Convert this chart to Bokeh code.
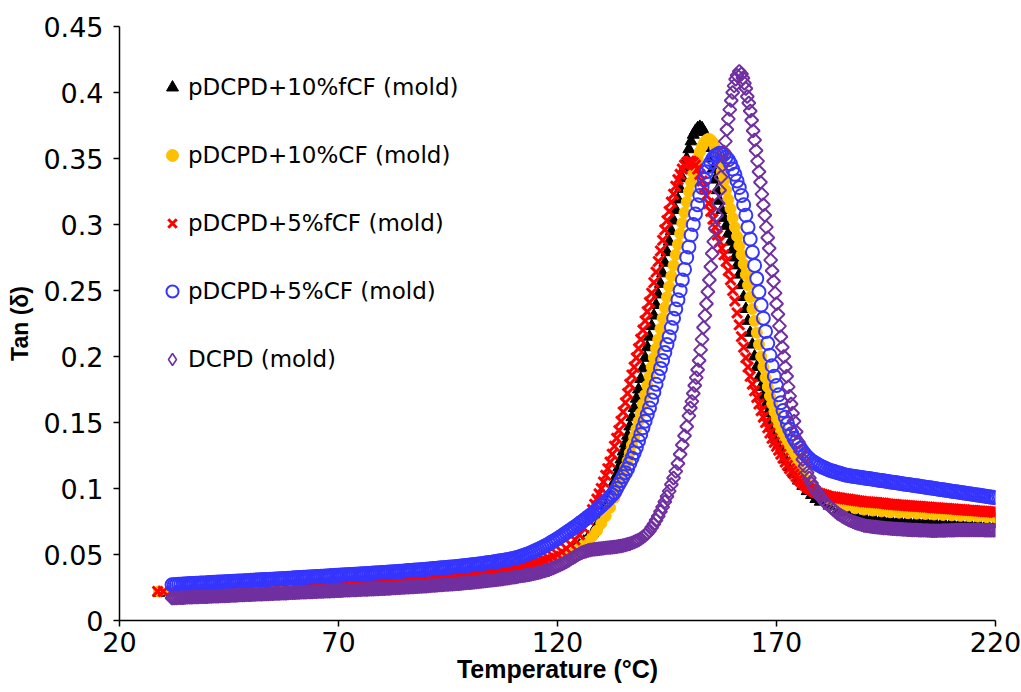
import math
from bokeh.plotting import figure
from bokeh.models import (ColumnDataSource, Range1d, FixedTicker, CustomJSTickFormatter,
                          Legend, LegendItem)
from bokeh.embed import file_html
from bokeh.resources import INLINE

# ---------------- data (temperature in °C, tan delta) ----------------
black_pts = [(29,0.021),(32,0.0215),(35,0.022),(38,0.0225),(41,0.023),(44,0.0235),(47,0.024),(50,0.0245),(53,0.025),(56,0.0255),(59,0.026),(62,0.0265),(65,0.027),(68,0.0275),(71,0.028),(74,0.0285),(77,0.029),(80,0.0295),(83,0.03),(86,0.0305),(89,0.031),(92,0.0318),(95,0.0325),(98,0.0333),(101,0.034),(104,0.035),(107,0.036),(110,0.0375),(113,0.0395),(116,0.042),(118,0.0445),(120,0.047),(122,0.05),(124,0.054),(125,0.0568),(126,0.0598),(127,0.063),(128,0.066),(129,0.072),(130,0.079),(131,0.087),(132,0.096),(132.5,0.1),(133,0.105),(133.5,0.11),(134,0.116),(134.5,0.122),(135,0.128),(135.5,0.134),(136,0.14),(136.5,0.147),(137,0.154),(137.5,0.161),(138,0.168),(138.5,0.175),(139,0.183),(139.5,0.191),(140,0.199),(140.5,0.207),(141,0.215),(141.5,0.223),(142,0.231),(142.5,0.239),(143,0.247),(143.5,0.255),(144,0.263),(144.5,0.271),(145,0.279),(145.5,0.287),(146,0.295),(146.5,0.303),(147,0.311),(147.5,0.319),(148,0.327),(148.5,0.335),(149,0.343),(149.5,0.35),(150,0.357),(150.5,0.363),(151,0.368),(151.5,0.371),(152,0.373),(152.5,0.374),(153,0.373),(153.5,0.37),(154,0.365),(154.5,0.358),(155,0.35),(155.5,0.342),(156,0.334),(156.5,0.326),(157,0.318),(157.5,0.311),(158,0.305),(158.5,0.299),(159,0.293),(159.5,0.287),(160,0.281),(160.5,0.275),(161,0.269),(161.5,0.262),(162,0.254),(162.5,0.245),(163,0.236),(163.5,0.227),(164,0.218),(164.5,0.209),(165,0.2),(165.5,0.192),(166,0.184),(166.5,0.177),(167,0.17),(167.5,0.163),(168,0.157),(168.5,0.151),(169,0.146),(169.5,0.141),(170,0.137),(170.5,0.133),(171,0.129),(172,0.122),(173,0.116),(174,0.111),(175,0.106),(176,0.102),(177,0.098),(178,0.095),(179,0.092),(180,0.09),(182,0.087),(184,0.084),(186,0.082),(188,0.08),(190,0.079),(192,0.0783),(194,0.0777),(196,0.077),(198,0.0767),(200,0.0763),(202,0.076),(204,0.0757),(206,0.0753),(208,0.075),(210,0.0747),(212,0.0743),(214,0.074),(216,0.0737),(218,0.0733),(220,0.073)]

yellow_pts = [(29,0.022),(32,0.0222),(35,0.0226),(38,0.023),(41,0.0234),(44,0.0238),(47,0.0242),(50,0.0246),(53,0.025),(56,0.0255),(59,0.026),(62,0.0265),(65,0.027),(68,0.0275),(71,0.028),(74,0.0285),(77,0.029),(80,0.0295),(83,0.03),(86,0.0306),(89,0.0312),(92,0.0319),(95,0.0326),(98,0.0334),(101,0.0342),(104,0.0352),(107,0.0362),(110,0.0375),(113,0.0393),(116,0.0415),(118,0.0435),(120,0.046),(122,0.049),(124,0.0525),(125,0.055),(126,0.0575),(127,0.06),(128,0.064),(129,0.068),(130,0.0735),(131,0.079),(132,0.0855),(133,0.093),(133.5,0.097),(134,0.101),(134.5,0.106),(135,0.111),(135.5,0.116),(136,0.121),(136.5,0.127),(137,0.133),(137.5,0.139),(138,0.145),(138.5,0.151),(139,0.157),(139.5,0.164),(140,0.171),(140.5,0.178),(141,0.185),(141.5,0.192),(142,0.199),(142.5,0.206),(143,0.213),(143.5,0.221),(144,0.229),(144.5,0.237),(145,0.245),(145.5,0.253),(146,0.261),(146.5,0.269),(147,0.277),(147.5,0.285),(148,0.293),(148.5,0.301),(149,0.309),(149.5,0.317),(150,0.325),(150.5,0.332),(151,0.339),(151.5,0.345),(152,0.35),(152.5,0.355),(153,0.359),(153.5,0.362),(154,0.364),(154.5,0.365),(155,0.364),(155.5,0.362),(156,0.358),(156.5,0.353),(157,0.347),(157.5,0.34),(158,0.333),(158.5,0.326),(159,0.319),(159.5,0.312),(160,0.305),(160.5,0.298),(161,0.291),(161.5,0.284),(162,0.277),(162.5,0.27),(163,0.262),(163.5,0.254),(164,0.245),(164.5,0.236),(165,0.227),(165.5,0.218),(166,0.209),(166.5,0.2),(167,0.192),(167.5,0.184),(168,0.177),(168.5,0.17),(169,0.164),(169.5,0.158),(170,0.153),(170.5,0.148),(171,0.144),(171.5,0.14),(172,0.136),(173,0.129),(174,0.122),(175,0.116),(176,0.111),(177,0.106),(178,0.102),(179,0.099),(180,0.096),(182,0.092),(184,0.089),(186,0.087),(188,0.085),(190,0.084),(192,0.0833),(194,0.0827),(196,0.082),(198,0.0817),(200,0.0813),(202,0.081),(204,0.0807),(206,0.0803),(208,0.08),(210,0.0797),(212,0.0793),(214,0.079),(216,0.0787),(218,0.0783),(220,0.078)]

red_pts = [(28.7,0.022),(30,0.022),(32,0.0225),(34,0.0228),(36,0.023),(38,0.0232),(40,0.0235),(42,0.0238),(44,0.024),(46,0.0243),(48,0.0246),(50,0.025),(52,0.0253),(54,0.0256),(56,0.026),(58,0.0263),(60,0.0266),(61,0.0268),(62,0.027),(63,0.0272),(64,0.0273),(65,0.0275),(66,0.0277),(67,0.0279),(68,0.028),(69,0.0282),(70,0.0284),(71,0.0286),(72,0.0288),(73,0.029),(74,0.0292),(75,0.0294),(76,0.0296),(77,0.0298),(78,0.03),(79,0.0302),(80,0.0304),(81,0.0306),(82,0.0308),(83,0.031),(84,0.0312),(85,0.0314),(86,0.0316),(87,0.0318),(88,0.032),(89,0.0322),(90,0.0325),(91,0.0327),(92,0.033),(93,0.0332),(94,0.0335),(95,0.0337),(96,0.034),(97,0.0343),(98,0.0346),(99,0.0349),(100,0.0352),(101,0.0356),(102,0.036),(103,0.0364),(104,0.0368),(105,0.0372),(106,0.0377),(107,0.0382),(108,0.0387),(109,0.0393),(110,0.04),(111,0.0407),(112,0.0415),(113,0.0422),(114,0.043),(115,0.0439),(116,0.0448),(117,0.0459),(118,0.047),(119,0.0485),(120,0.05),(121,0.052),(122,0.0545),(123,0.0575),(124,0.061),(125,0.065),(126,0.07),(127,0.0765),(127.5,0.08),(128,0.084),(128.5,0.088),(129,0.092),(129.5,0.096),(130,0.1),(130.5,0.105),(131,0.11),(131.5,0.115),(132,0.12),(132.5,0.126),(133,0.132),(133.5,0.138),(134,0.144),(134.5,0.151),(135,0.158),(135.5,0.165),(136,0.172),(136.5,0.179),(137,0.186),(137.5,0.192),(138,0.199),(138.5,0.206),(139,0.213),(139.5,0.22),(140,0.227),(140.5,0.234),(141,0.241),(141.5,0.248),(142,0.256),(142.5,0.264),(143,0.272),(143.5,0.28),(144,0.288),(144.5,0.296),(145,0.303),(145.5,0.31),(146,0.317),(146.5,0.323),(147,0.329),(147.5,0.334),(148,0.338),(148.5,0.342),(149,0.345),(149.5,0.347),(150,0.348),(150.5,0.348),(151,0.347),(151.5,0.345),(152,0.342),(152.5,0.338),(153,0.333),(153.5,0.328),(154,0.322),(154.5,0.316),(155,0.31),(155.5,0.304),(156,0.298),(156.5,0.292),(157,0.287),(157.5,0.282),(158,0.277),(158.5,0.272),(159,0.265),(159.5,0.258),(160,0.25),(160.5,0.242),(161,0.233),(161.5,0.224),(162,0.215),(162.5,0.207),(163,0.199),(163.5,0.192),(164,0.185),(164.5,0.179),(165,0.174),(165.5,0.169),(166,0.164),(166.5,0.159),(167,0.154),(167.5,0.15),(168,0.146),(168.5,0.142),(169,0.138),(169.5,0.135),(170,0.132),(170.5,0.129),(171,0.126),(171.5,0.123),(172,0.12),(172.5,0.1175),(173,0.115),(173.5,0.113),(174,0.111),(174.5,0.109),(175,0.107),(175.5,0.1055),(176,0.104),(176.5,0.1025),(177,0.101),(177.5,0.1),(178,0.099),(178.5,0.098),(179,0.097),(179.5,0.0965),(180,0.096),(180.5,0.0955),(181,0.095),(181.5,0.0945),(182,0.094),(182.5,0.0938),(183,0.0935),(183.5,0.0933),(184,0.093),(184.5,0.0928),(185,0.0925),(185.5,0.0923),(186,0.092),(186.5,0.0918),(187,0.0915),(187.5,0.0913),(188,0.091),(188.5,0.0908),(189,0.0905),(189.5,0.0903),(190,0.09),(190.5,0.0899),(191,0.0898),(191.5,0.0896),(192,0.0895),(192.5,0.0894),(193,0.0893),(193.5,0.0891),(194,0.089),(194.5,0.0888),(195,0.0885),(195.5,0.0883),(196,0.088),(196.5,0.0879),(197,0.0878),(197.5,0.0876),(198,0.0875),(198.5,0.0874),(199,0.0873),(199.5,0.0871),(200,0.087),(200.5,0.0869),(201,0.0868),(201.5,0.0866),(202,0.0865),(202.5,0.0864),(203,0.0863),(203.5,0.0861),(204,0.086),(204.5,0.0859),(205,0.0858),(205.5,0.0856),(206,0.0855),(206.5,0.0854),(207,0.0853),(207.5,0.0851),(208,0.085),(208.5,0.0849),(209,0.0848),(209.5,0.0846),(210,0.0845),(210.5,0.0844),(211,0.0843),(211.5,0.0841),(212,0.084),(212.5,0.0839),(213,0.0838),(213.5,0.0836),(214,0.0835),(214.5,0.0834),(215,0.0833),(215.5,0.0831),(216,0.083),(216.5,0.0829),(217,0.0828),(217.5,0.0826),(218,0.0825),(218.5,0.0824),(219,0.0823),(219.5,0.0821),(220,0.082)]

blue_pts = [(32,0.027),(32.5,0.0271),(33,0.0272),(33.5,0.0274),(34,0.0275),(34.5,0.0276),(35,0.0277),(35.5,0.0279),(36,0.028),(36.5,0.028),(37,0.0281),(37.5,0.0282),(38,0.0283),(38.5,0.0284),(39,0.0285),(39.5,0.0285),(40,0.0286),(40.5,0.0287),(41,0.0288),(41.5,0.0289),(42,0.029),(42.5,0.0291),(43,0.0292),(43.5,0.0292),(44,0.0293),(44.5,0.0294),(45,0.0295),(45.5,0.0296),(46,0.0297),(46.5,0.0298),(47,0.0299),(47.5,0.0299),(48,0.03),(48.5,0.0301),(49,0.0302),(49.5,0.0303),(50,0.0304),(50.5,0.0305),(51,0.0306),(51.5,0.0307),(52,0.0308),(52.5,0.0309),(53,0.031),(53.5,0.031),(54,0.0311),(54.5,0.0312),(55,0.0313),(55.5,0.0314),(56,0.0315),(56.5,0.0316),(57,0.0317),(57.5,0.0318),(58,0.0319),(58.5,0.032),(59,0.0321),(59.5,0.0322),(60,0.0323),(60.5,0.0324),(61,0.0325),(61.5,0.0326),(62,0.0327),(62.5,0.0328),(63,0.0329),(63.5,0.033),(64,0.0331),(64.5,0.0332),(65,0.0333),(65.5,0.0334),(66,0.0335),(66.5,0.0336),(67,0.0337),(67.5,0.0338),(68,0.0339),(68.5,0.034),(69,0.0341),(69.5,0.0342),(70,0.0343),(70.5,0.0344),(71,0.0345),(71.5,0.0346),(72,0.0347),(72.5,0.0348),(73,0.0349),(73.5,0.035),(74,0.0351),(74.5,0.0352),(75,0.0353),(75.5,0.0354),(76,0.0355),(76.5,0.0356),(77,0.0357),(77.5,0.0358),(78,0.0359),(78.5,0.036),(79,0.0361),(79.5,0.0362),(80,0.0363),(80.5,0.0364),(81,0.0365),(81.5,0.0367),(82,0.0368),(82.5,0.0369),(83,0.037),(83.5,0.0372),(84,0.0373),(84.5,0.0374),(85,0.0375),(85.5,0.0377),(86,0.0378),(86.5,0.0379),(87,0.038),(87.5,0.0382),(88,0.0383),(88.5,0.0384),(89,0.0385),(89.5,0.0387),(90,0.0388),(90.5,0.039),(91,0.0391),(91.5,0.0393),(92,0.0394),(92.5,0.0396),(93,0.0397),(93.5,0.0399),(94,0.04),(94.5,0.0402),(95,0.0403),(95.5,0.0405),(96,0.0406),(96.5,0.0408),(97,0.0409),(97.5,0.0411),(98,0.0413),(98.5,0.0415),(99,0.0416),(99.5,0.0418),(100,0.042),(100.5,0.0422),(101,0.0424),(101.5,0.0426),(102,0.0428),(102.5,0.043),(103,0.0432),(103.5,0.0435),(104,0.0437),(104.5,0.044),(105,0.0442),(105.5,0.0445),(106,0.0447),(106.5,0.045),(107,0.0452),(107.5,0.0455),(108,0.0458),(108.5,0.0461),(109,0.0464),(109.5,0.0467),(110,0.047),(110.5,0.0475),(111,0.048),(111.5,0.0485),(112,0.049),(112.5,0.0496),(113,0.0502),(113.5,0.0508),(114,0.0515),(114.5,0.0522),(115,0.053),(115.5,0.0537),(116,0.0545),(116.5,0.0553),(117,0.0562),(117.5,0.0571),(118,0.058),(118.5,0.059),(119,0.06),(119.5,0.061),(120,0.062),(120.5,0.0631),(121,0.0642),(121.5,0.0653),(122,0.0665),(122.5,0.0676),(123,0.0687),(123.5,0.0698),(124,0.071),(124.5,0.0722),(125,0.0735),(125.5,0.0747),(126,0.076),(126.5,0.0772),(127,0.0785),(127.5,0.0797),(128,0.081),(128.5,0.0825),(129,0.084),(129.5,0.0855),(130,0.087),(130.5,0.0885),(131,0.09),(131.5,0.0917),(132,0.0935),(132.5,0.0952),(133,0.097),(133.5,0.1),(134,0.103),(134.5,0.106),(135,0.109),(135.5,0.112),(136,0.115),(136.5,0.119),(137,0.123),(137.5,0.127),(138,0.131),(138.5,0.136),(139,0.141),(139.5,0.146),(140,0.151),(140.5,0.156),(141,0.161),(141.5,0.167),(142,0.173),(142.5,0.179),(143,0.185),(143.5,0.191),(144,0.197),(144.5,0.203),(145,0.209),(145.5,0.215),(146,0.222),(146.5,0.229),(147,0.236),(147.5,0.243),(148,0.25),(148.5,0.258),(149,0.266),(149.5,0.275),(150,0.283),(150.5,0.292),(151,0.3),(151.5,0.308),(152,0.315),(152.5,0.322),(153,0.328),(153.5,0.334),(154,0.34),(154.5,0.344),(155,0.347),(155.5,0.35),(156,0.352),(156.5,0.353),(157,0.354),(157.5,0.354),(158,0.353),(158.5,0.351),(159,0.349),(159.5,0.346),(160,0.342),(160.5,0.338),(161,0.333),(161.5,0.328),(162,0.322),(162.5,0.315),(163,0.307),(163.5,0.298),(164,0.289),(164.5,0.279),(165,0.269),(165.5,0.259),(166,0.249),(166.5,0.239),(167,0.229),(167.5,0.219),(168,0.21),(168.5,0.201),(169,0.193),(169.5,0.185),(170,0.178),(170.5,0.171),(171,0.165),(171.5,0.159),(172,0.154),(172.5,0.149),(173,0.145),(173.5,0.1415),(174,0.138),(174.5,0.1355),(175,0.133),(175.5,0.1305),(176,0.128),(176.5,0.126),(177,0.124),(177.5,0.1225),(178,0.121),(178.5,0.12),(179,0.119),(179.5,0.118),(180,0.117),(180.5,0.1162),(181,0.1155),(181.5,0.1148),(182,0.114),(182.5,0.1135),(183,0.113),(183.5,0.1125),(184,0.112),(184.5,0.1115),(185,0.111),(185.5,0.1105),(186,0.11),(186.5,0.1098),(187,0.1095),(187.5,0.1093),(188,0.109),(188.5,0.1088),(189,0.1085),(189.5,0.1083),(190,0.108),(190.5,0.1078),(191,0.1075),(191.5,0.1073),(192,0.107),(192.5,0.1068),(193,0.1065),(193.5,0.1063),(194,0.106),(194.5,0.1058),(195,0.1055),(195.5,0.1053),(196,0.105),(196.5,0.1048),(197,0.1045),(197.5,0.1043),(198,0.104),(198.5,0.1038),(199,0.1035),(199.5,0.1033),(200,0.103),(200.5,0.1028),(201,0.1025),(201.5,0.1023),(202,0.102),(202.5,0.1018),(203,0.1015),(203.5,0.1013),(204,0.101),(204.5,0.1008),(205,0.1005),(205.5,0.1003),(206,0.1),(206.5,0.0998),(207,0.0995),(207.5,0.0993),(208,0.099),(208.5,0.0988),(209,0.0985),(209.5,0.0983),(210,0.098),(210.5,0.0978),(211,0.0975),(211.5,0.0973),(212,0.097),(212.5,0.0968),(213,0.0965),(213.5,0.0963),(214,0.096),(214.5,0.0958),(215,0.0955),(215.5,0.0953),(216,0.095),(216.5,0.0948),(217,0.0945),(217.5,0.0943),(218,0.094),(218.5,0.0938),(219,0.0935),(219.5,0.0933),(220,0.093)]

purple_pts = [(32,0.017),(32.5,0.0171),(33,0.0171),(33.5,0.0172),(34,0.0172),(34.5,0.0173),(35,0.0174),(35.5,0.0175),(36,0.0175),(36.5,0.0176),(37,0.0177),(37.5,0.0178),(38,0.0178),(38.5,0.0179),(39,0.0179),(39.5,0.018),(40,0.018),(40.5,0.0181),(41,0.0182),(41.5,0.0183),(42,0.0183),(42.5,0.0184),(43,0.0185),(43.5,0.0186),(44,0.0186),(44.5,0.0187),(45,0.0188),(45.5,0.0189),(46,0.0189),(46.5,0.019),(47,0.0191),(47.5,0.0192),(48,0.0192),(48.5,0.0193),(49,0.0194),(49.5,0.0195),(50,0.0195),(50.5,0.0196),(51,0.0197),(51.5,0.0198),(52,0.0198),(52.5,0.0199),(53,0.02),(53.5,0.0201),(54,0.0201),(54.5,0.0202),(55,0.0203),(55.5,0.0204),(56,0.0204),(56.5,0.0205),(57,0.0206),(57.5,0.0207),(58,0.0207),(58.5,0.0208),(59,0.0209),(59.5,0.021),(60,0.021),(60.5,0.0211),(61,0.0212),(61.5,0.0213),(62,0.0213),(62.5,0.0214),(63,0.0215),(63.5,0.0216),(64,0.0216),(64.5,0.0217),(65,0.0218),(65.5,0.0219),(66,0.0219),(66.5,0.022),(67,0.0221),(67.5,0.0222),(68,0.0222),(68.5,0.0223),(69,0.0224),(69.5,0.0225),(70,0.0225),(70.5,0.0226),(71,0.0227),(71.5,0.0228),(72,0.0228),(72.5,0.0229),(73,0.023),(73.5,0.0231),(74,0.0231),(74.5,0.0232),(75,0.0233),(75.5,0.0234),(76,0.0234),(76.5,0.0235),(77,0.0236),(77.5,0.0237),(78,0.0237),(78.5,0.0238),(79,0.0239),(79.5,0.024),(80,0.024),(80.5,0.0241),(81,0.0242),(81.5,0.0243),(82,0.0244),(82.5,0.0245),(83,0.0246),(83.5,0.0247),(84,0.0248),(84.5,0.0249),(85,0.025),(85.5,0.0251),(86,0.0252),(86.5,0.0253),(87,0.0254),(87.5,0.0255),(88,0.0256),(88.5,0.0257),(89,0.0258),(89.5,0.0259),(90,0.026),(90.5,0.0262),(91,0.0263),(91.5,0.0264),(92,0.0265),(92.5,0.0267),(93,0.0268),(93.5,0.0269),(94,0.027),(94.5,0.0272),(95,0.0273),(95.5,0.0274),(96,0.0275),(96.5,0.0277),(97,0.0278),(97.5,0.0279),(98,0.028),(98.5,0.0282),(99,0.0283),(99.5,0.0285),(100,0.0286),(100.5,0.0288),(101,0.029),(101.5,0.0292),(102,0.0293),(102.5,0.0295),(103,0.0297),(103.5,0.0299),(104,0.03),(104.5,0.0302),(105,0.0304),(105.5,0.0306),(106,0.0308),(106.5,0.0311),(107,0.0313),(107.5,0.0315),(108,0.0317),(108.5,0.032),(109,0.0322),(109.5,0.0325),(110,0.0327),(110.5,0.033),(111,0.0333),(111.5,0.0336),(112,0.0338),(112.5,0.0341),(113,0.0344),(113.5,0.0347),(114,0.035),(114.5,0.0353),(115,0.0357),(115.5,0.0361),(116,0.0365),(116.5,0.037),(117,0.0375),(117.5,0.038),(118,0.0385),(118.5,0.0391),(119,0.0398),(119.5,0.0405),(120,0.0412),(120.5,0.042),(121,0.0428),(121.5,0.0436),(122,0.0445),(122.5,0.0455),(123,0.0465),(123.5,0.0475),(124,0.0485),(124.5,0.0495),(125,0.0505),(125.5,0.0513),(126,0.052),(126.5,0.0525),(127,0.053),(127.5,0.0534),(128,0.0537),(128.5,0.054),(129,0.0542),(129.5,0.0544),(130,0.0546),(130.5,0.0548),(131,0.055),(131.5,0.0552),(132,0.0553),(132.5,0.0555),(133,0.0557),(133.5,0.0559),(134,0.0562),(134.5,0.0565),(135,0.0568),(135.5,0.0572),(136,0.0577),(136.5,0.0582),(137,0.0588),(137.5,0.0595),(138,0.0602),(138.5,0.061),(139,0.062),(139.5,0.0632),(140,0.0645),(140.5,0.066),(141,0.068),(141.5,0.0705),(142,0.073),(142.5,0.076),(143,0.079),(143.5,0.0825),(144,0.086),(144.5,0.09),(145,0.094),(145.5,0.098),(146,0.103),(146.5,0.108),(147,0.113),(147.5,0.119),(148,0.126),(148.5,0.133),(149,0.14),(149.5,0.147),(150,0.155),(150.33,0.161),(150.67,0.166),(151,0.172),(151.33,0.178),(151.67,0.184),(152,0.19),(152.33,0.197),(152.67,0.205),(153,0.213),(153.33,0.222),(153.67,0.231),(154,0.24),(154.33,0.249),(154.67,0.258),(155,0.268),(155.33,0.278),(155.67,0.287),(156,0.297),(156.33,0.307),(156.67,0.316),(157,0.326),(157.33,0.336),(157.67,0.345),(158,0.355),(158.33,0.363),(158.67,0.372),(159,0.38),(159.33,0.387),(159.67,0.394),(160,0.4),(160.33,0.405),(160.67,0.41),(161,0.413),(161.5,0.416),(162,0.414),(162.33,0.411),(162.67,0.407),(163,0.403),(163.33,0.397),(163.67,0.392),(164,0.386),(164.33,0.379),(164.67,0.371),(165,0.364),(165.33,0.356),(165.67,0.348),(166,0.34),(166.33,0.332),(166.67,0.323),(167,0.315),(167.33,0.307),(167.67,0.298),(168,0.29),(168.33,0.282),(168.67,0.273),(169,0.265),(169.33,0.257),(169.67,0.248),(170,0.24),(170.33,0.232),(170.67,0.223),(171,0.215),(171.33,0.207),(171.67,0.2),(172,0.192),(172.33,0.185),(172.67,0.177),(173,0.17),(173.33,0.164),(173.67,0.157),(174,0.151),(174.5,0.143),(175,0.135),(175.5,0.128),(176,0.122),(176.5,0.117),(177,0.112),(177.5,0.108),(178,0.104),(178.5,0.101),(179,0.098),(179.5,0.096),(180,0.094),(180.5,0.092),(181,0.09),(181.5,0.0885),(182,0.087),(182.5,0.0855),(183,0.084),(183.5,0.0825),(184,0.081),(184.5,0.08),(185,0.079),(185.5,0.078),(186,0.077),(186.5,0.0762),(187,0.0755),(187.5,0.0747),(188,0.074),(188.5,0.0735),(189,0.073),(189.5,0.0725),(190,0.072),(190.5,0.0717),(191,0.0715),(191.5,0.0712),(192,0.071),(192.5,0.0708),(193,0.0706),(193.5,0.0704),(194,0.0703),(194.5,0.0701),(195,0.07),(195.5,0.0698),(196,0.0697),(196.5,0.0695),(197,0.0694),(197.5,0.0693),(198,0.0692),(198.5,0.0691),(199,0.069),(199.5,0.0689),(200,0.0688),(200.5,0.0687),(201,0.0686),(201.5,0.0685),(202,0.0685),(202.5,0.0684),(203,0.0684),(203.5,0.0683),(204,0.0683),(204.5,0.0682),(205,0.0681),(205.5,0.068),(206,0.068),(206.5,0.068),(207,0.0681),(207.5,0.0681),(208,0.0682),(208.5,0.0682),(209,0.0683),(209.5,0.0683),(210,0.0684),(210.5,0.0684),(211,0.0685),(211.5,0.0685),(212,0.0685),(212.5,0.0685),(213,0.0686),(213.5,0.0686),(214,0.0686),(214.5,0.0686),(215,0.0686),(215.5,0.0685),(216,0.0685),(216.5,0.0685),(217,0.0685),(217.5,0.0684),(218,0.0684),(218.5,0.0684),(219,0.0684),(219.5,0.0683),(220,0.0683)]

labels = ["pDCPD+10%fCF (mold)", "pDCPD+10%CF (mold)", "pDCPD+5%fCF (mold)",
          "pDCPD+5%CF (mold)", "DCPD (mold)"]
x_ticks = [20, 70, 120, 170, 220]
y_ticks = [0, 0.05, 0.1, 0.15, 0.2, 0.25, 0.3, 0.35, 0.4, 0.45]

# ---------------- figure ----------------
p = figure(width=1021, height=692, output_backend="svg", toolbar_location=None,
           x_range=Range1d(20, 220), y_range=Range1d(0, 0.45),
           min_border_left=119, min_border_right=26, min_border_top=26,
           min_border_bottom=72)
p.grid.visible = False
p.outline_line_color = None

def src(pts):
    return ColumnDataSource(dict(t=[a for a, b in pts], v=[b for a, b in pts]))

r_black = p.scatter("t", "v", source=src(black_pts), marker="triangle", size=12,
                    fill_color="#000000", line_color="#000000")
r_yellow = p.scatter("t", "v", source=src(yellow_pts), marker="circle", size=11,
                     fill_color="#FFC000", line_color="#FFC000")
r_red = p.scatter("t", "v", source=src(red_pts), marker="x", size=14,
                  line_color="#FF0000", line_width=3)
r_blue = p.scatter("t", "v", source=src(blue_pts), marker="circle", size=13,
                   fill_color=None, line_color="#3535FF", line_width=2)
purple_src = src(purple_pts)
r_purple = p.scatter("t", "v", source=purple_src, marker="square", size=9.2,
                     angle=math.pi / 4, fill_color=None, line_color="#7030A0",
                     line_width=2)
# legend swatch for the diamond series (legend glyphs ignore rotation)
r_purple_key = p.scatter("t", "v", source=purple_src, marker="diamond", size=14,
                         fill_color=None, line_color="#7030A0", line_width=1.6,
                         visible=False)

# axes
for ax in (p.xaxis[0], p.yaxis[0]):
    ax.axis_line_color = "black"
    ax.axis_line_width = 1.5
    ax.major_tick_line_color = "black"
    ax.major_tick_line_width = 1.5
    ax.major_tick_out = 6
    ax.major_tick_in = 0
    ax.minor_tick_out = 0
    ax.minor_tick_in = 0
    ax.major_label_text_font = "DejaVu Sans"
    ax.major_label_text_font_size = "27px"
    ax.major_label_text_color = "#000000"
    ax.axis_label_text_font = "Liberation Sans"
    ax.axis_label_text_font_style = "bold"
    ax.axis_label_text_color = "#000000"

p.xaxis.ticker = FixedTicker(ticks=x_ticks)
p.yaxis.ticker = FixedTicker(ticks=y_ticks)
p.yaxis.formatter = CustomJSTickFormatter(code="return String(Math.round(tick*100)/100);")
p.xaxis.formatter = CustomJSTickFormatter(code="return String(Math.round(tick));")
p.xaxis.axis_label = "Temperature (°C)"
p.yaxis.axis_label = "Tan (δ)"
p.xaxis.axis_label_text_font_size = "25px"
p.yaxis.axis_label_text_font_size = "23px"
p.xaxis.major_label_standoff = 5
p.yaxis.major_label_standoff = 10
p.xaxis.axis_label_standoff = 0
p.yaxis.axis_label_standoff = 7

legend = Legend(items=[LegendItem(label=l, renderers=[r]) for l, r in
                       zip(labels, [r_black, r_yellow, r_red, r_blue, r_purple_key])],
                location="top_left")
legend.border_line_color = None
legend.background_fill_alpha = 0
legend.padding = 0
legend.margin = 38
legend.glyph_width = 30
legend.glyph_height = 46
legend.label_height = 46
legend.spacing = 22
legend.label_standoff = 1
legend.label_text_font = "DejaVu Sans"
legend.label_text_font_size = "23px"
legend.label_text_color = "#000000"
p.add_layout(legend)

open("out.html", "w").write(file_html(p, INLINE))
